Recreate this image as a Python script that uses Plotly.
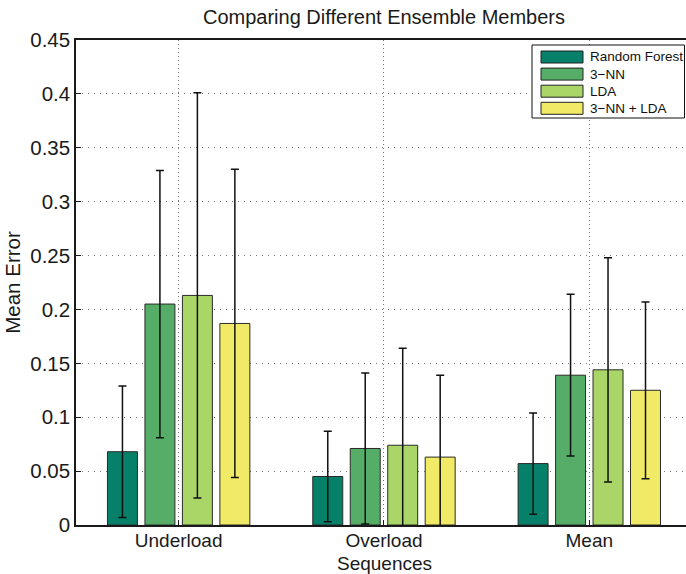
import plotly.graph_objects as go

categories = ["Underload", "Overload", "Mean"]
series_names = ["Random Forest", "3\u2212NN", "LDA", "3\u2212NN + LDA"]
colors = ["#078069", "#56AD68", "#AAD668", "#F0EA66"]

rf_mean = [0.068, 0.045, 0.057]
rf_err = [0.061, 0.042, 0.047]
knn_mean = [0.205, 0.071, 0.139]
knn_err = [0.124, 0.070, 0.075]
lda_mean = [0.213, 0.074, 0.144]
lda_err = [0.188, 0.090, 0.104]
combo_mean = [0.187, 0.063, 0.125]
combo_err = [0.143, 0.076, 0.082]

means = [rf_mean, knn_mean, lda_mean, combo_mean]
errs = [rf_err, knn_err, lda_err, combo_err]

y_ticks = [0, 0.05, 0.1, 0.15, 0.2, 0.25, 0.3, 0.35, 0.4, 0.45]
y_tick_text = ["0", "0.05", "0.1", "0.15", "0.2", "0.25", "0.3", "0.35", "0.4", "0.45"]

FONT = "Liberation Sans, Arial, Helvetica, sans-serif"
W, H = 686, 574
L, R, T, B = 76, 0, 40, 49
PW, PH = W - L - R, H - T - B

fig = go.Figure()
for name, m, e, c in zip(series_names, means, errs, colors):
    fig.add_trace(go.Bar(
        x=categories, y=m, name=name,
        marker=dict(color=c, line=dict(color="#2a2a2a", width=1)),
        error_y=dict(type="data", array=e, visible=True, color="#111111",
                     thickness=1.5, width=4),
    ))

# custom legend (box with wide swatches, like the original)
shapes = [dict(type="rect", xref="paper", yref="paper", layer="above",
               x0=(532 - L) / PW, x1=(684.5 - L) / PW,
               y0=1 - (118 - T) / PH, y1=1 - (45 - T) / PH,
               line=dict(color="#111111", width=1), fillcolor="white")]
annotations = []
for i, (name, c) in enumerate(zip(series_names, colors)):
    top = 51 + i * 17.1
    shapes.append(dict(type="rect", xref="paper", yref="paper", layer="above",
                       x0=(541 - L) / PW, x1=(583 - L) / PW,
                       y0=1 - (top + 12 - T) / PH, y1=1 - (top - T) / PH,
                       line=dict(color="#222222", width=1), fillcolor=c))
    annotations.append(dict(text=name, xref="paper", yref="paper",
                            x=(588 - L) / PW, y=1 - (top + 6 - T) / PH,
                            xanchor="left", yanchor="middle", showarrow=False,
                            font=dict(size=13.5, family=FONT, color="#111111")))

# x-axis title placed at the very bottom, as in the original
annotations.append(dict(text="Sequences", xref="paper", yref="paper",
                        x=(384 - L) / PW, y=-(H - T - PH) / PH,
                        xanchor="center", yanchor="bottom", showarrow=False,
                        borderpad=0, yshift=-1,
                        font=dict(size=19, family=FONT, color="#1a1a1a")))

fig.update_layout(
    width=W, height=H,
    margin=dict(l=L, r=R, t=T, b=B, autoexpand=False),
    paper_bgcolor="white", plot_bgcolor="white",
    font=dict(family=FONT, color="#1a1a1a"),
    barmode="group", bargap=0.27, bargroupgap=0.2,
    title=dict(text="Comparing Different Ensemble Members", x=384/686, xref="container",
               xanchor="center", y=1 - 17/574, yref="container", yanchor="middle",
               font=dict(size=20, family=FONT)),
    showlegend=False,
    shapes=shapes, annotations=annotations,
)

fig.update_xaxes(
    range=[-0.5, 2.471], showline=True, linecolor="#1a1a1a", linewidth=1.5,
    mirror=True, showgrid=True, gridcolor="#777777", griddash="1px,3px", gridwidth=1,
    ticks="inside", ticklen=5, tickcolor="#1a1a1a",
    tickfont=dict(size=19), automargin=False, ticklabelstandoff=-3,
)
fig.update_yaxes(
    range=[0, 0.45], tickvals=y_ticks, ticktext=y_tick_text,
    showline=True, linecolor="#1a1a1a", linewidth=1.5, mirror=False,
    showgrid=True, gridcolor="#777777", griddash="1px,5px", gridwidth=1,
    zeroline=False, ticks="inside", ticklen=5, tickcolor="#1a1a1a",
    tickfont=dict(size=20.5), automargin=False,
    title=dict(text="Mean Error", font=dict(size=20.5), standoff=4),
)

fig.write_html("out.html")
